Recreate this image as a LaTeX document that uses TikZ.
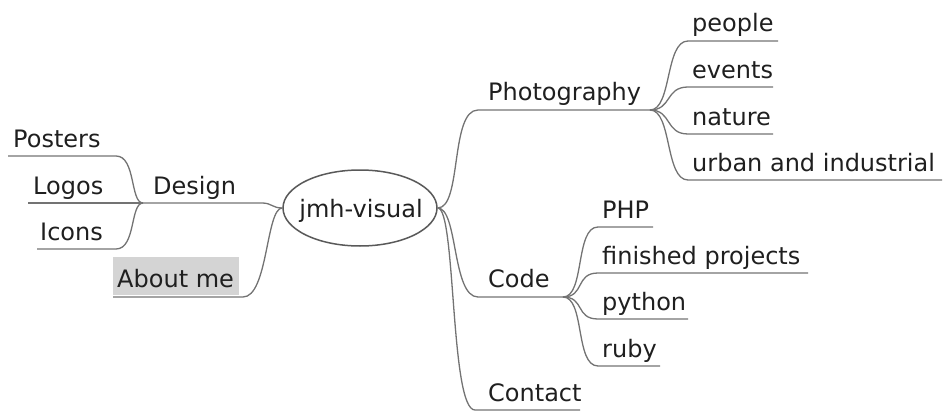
\documentclass[tikz,border=0pt]{standalone}
\usepackage{fontspec}
\setmainfont{DejaVu Sans}
\usetikzlibrary{shapes.geometric}
\begin{document}
\begin{tikzpicture}[x=1pt,y=-1pt,
  lbl/.style={anchor=base west, inner sep=0pt, font=\fontsize{24}{29}\selectfont, text=black!88},
  edge/.style={draw=black!55, line width=1.3pt}]
\useasboundingbox (0,0) rectangle (943,412);
% root
\node[draw=black!65, line width=1.5pt, ellipse, minimum width=154pt, minimum height=76pt, inner sep=0pt] (root) at (360,208) {};
\node[anchor=base, inner sep=0pt, font=\fontsize{24}{29}\selectfont, text=black!88] (roottext) at (361,217) {jmh-visual};
% left side
\node[lbl] (design) at (153,194) {Design};
\node[lbl] (posters) at (13,147) {Posters};
\node[lbl] (logos) at (33,194) {Logos};
\node[lbl] (icons) at (40,240) {Icons};
\node[fill=black!17, anchor=north west, minimum width=126pt, minimum height=38pt, inner sep=0pt] (aboutbox) at (113,257) {};
\node[lbl] (about) at (117,287) {About me};
\coordinate (designR) at (262,203);
\coordinate (designJ) at (143,203);
\coordinate (postersR) at (116,156);
\coordinate (postersL) at (8,156);
\coordinate (logosL) at (28,203);
\coordinate (iconsR) at (116,249);
\coordinate (iconsL) at (37,249);
\coordinate (aboutR) at (243,297);
\coordinate (aboutL) at (113,297);
\draw[edge] (root.west) .. controls (272,208) and (272,203) .. (designR) -- (designJ);
\draw[edge] (designJ) .. controls (130,203) and (136,156) .. (postersR) -- (postersL);
\draw[edge] (designJ) -- (logosL);
\draw[edge] (designJ) .. controls (130,203) and (136,249) .. (iconsR) -- (iconsL);
\draw[edge] (root.west) .. controls (266,208) and (268,297) .. (aboutR) -- (aboutL);
% right side
\node[lbl] (photo) at (488,100) {Photography};
\node[lbl] (code) at (488,287) {Code};
\node[lbl] (contact) at (488,401) {Contact};
\coordinate (photoL) at (478,110);
\coordinate (photoJ) at (650,110);
\coordinate (codeL) at (478,297);
\coordinate (codeJ) at (563,297);
\coordinate (contactL) at (475,410);
\coordinate (contactR) at (580,410);
\draw[edge] (root.east) .. controls (462,208) and (450,110) .. (photoL) -- (photoJ);
\draw[edge] (root.east) .. controls (458,208) and (452,297) .. (codeL) -- (codeJ);
\draw[edge] (root.east) .. controls (456,208) and (450,410) .. (contactL) -- (contactR);
% photography children
\node[lbl] (people) at (692,32) {people};
\node[lbl] (events) at (692,78) {events};
\node[lbl] (nature) at (692,125) {nature};
\node[lbl] (urban) at (692,171) {urban and industrial};
\coordinate (peopleL) at (688,41);   \coordinate (peopleR) at (778,41);
\coordinate (eventsL) at (688,87);   \coordinate (eventsR) at (773,87);
\coordinate (natureL) at (688,134);  \coordinate (natureR) at (773,134);
\coordinate (urbanL) at (688,180);   \coordinate (urbanR) at (942,180);
\foreach \c in {people,events,nature,urban}{
  \draw[edge] (photoJ) .. controls ([xshift=22pt]photoJ) and ([xshift=-23pt]\c L) .. (\c L) -- (\c R);
}
% code children
\node[lbl] (php) at (602,218) {PHP};
\node[lbl] (finished) at (602,264) {finished projects};
\node[lbl] (python) at (602,310) {python};
\node[lbl] (ruby) at (602,357) {ruby};
\coordinate (phpL) at (598,227);      \coordinate (phpR) at (653,227);
\coordinate (finishedL) at (598,273); \coordinate (finishedR) at (808,273);
\coordinate (pythonL) at (598,319);   \coordinate (pythonR) at (688,319);
\coordinate (rubyL) at (598,366);     \coordinate (rubyR) at (660,366);
\foreach \c in {php,finished,python,ruby}{
  \draw[edge] (codeJ) .. controls ([xshift=22pt]codeJ) and ([xshift=-23pt]\c L) .. (\c L) -- (\c R);
}
\end{tikzpicture}
\end{document}
